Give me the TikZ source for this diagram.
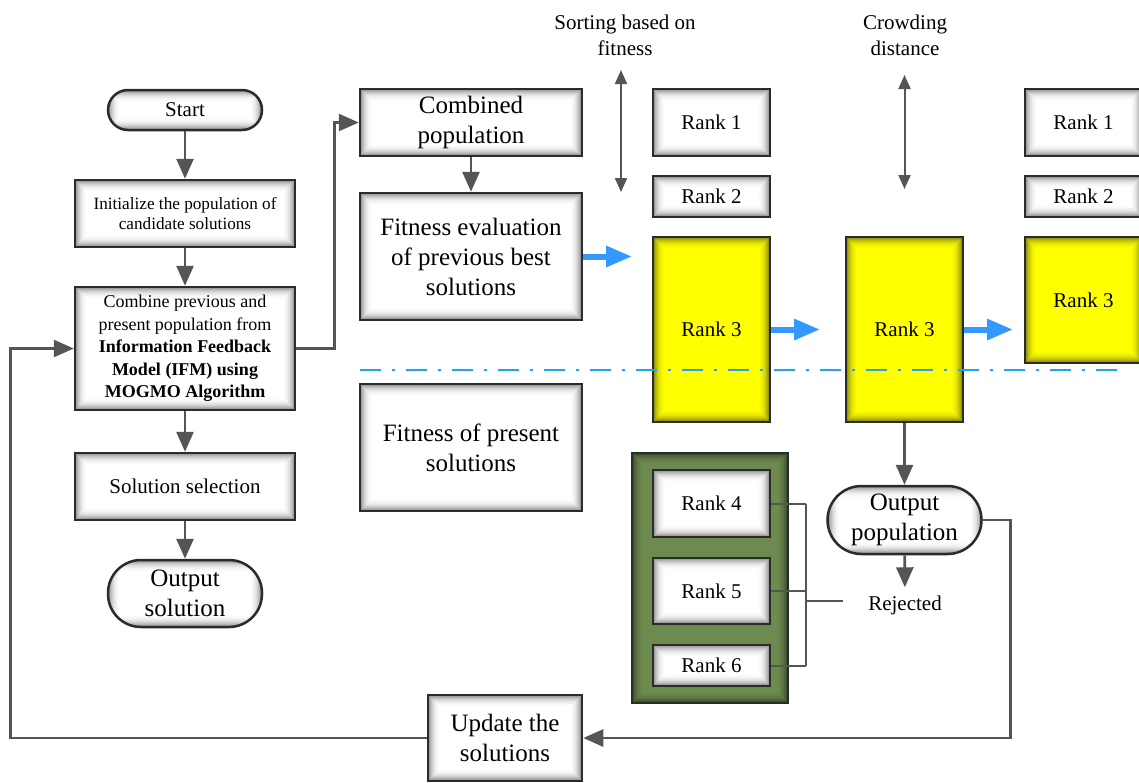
\documentclass[tikz,border=0pt]{standalone}
\usepackage{fontspec}
\setmainfont{Liberation Serif}
\usepackage{xcolor}
\usepackage{tikz}
\usetikzlibrary{calc}
\usetikzlibrary{arrows.meta}

\definecolor{linegray}{HTML}{555555}
\definecolor{boxline}{HTML}{2B2B2B}
\definecolor{edgegray}{HTML}{8A8A8A}
\definecolor{arrowblue}{HTML}{3399FF}
\definecolor{dashblue}{HTML}{1FA5E8}
\definecolor{rankyellow}{HTML}{FFFF00}
\definecolor{yellowedge}{HTML}{7E7E14}
\definecolor{boxgreen}{HTML}{6E8B4F}
\definecolor{greenedge}{HTML}{36452A}

\newcommand{\txtbig}{\fontsize{25}{30}\selectfont}
\newcommand{\txtmid}{\fontsize{21}{26}\selectfont}
\newcommand{\txtcomb}{\fontsize{18}{22.5}\selectfont}
\newcommand{\txtsmall}{\fontsize{17.2}{20.5}\selectfont}

\tikzset{
  glow/.style 2 args={path picture={
    \foreach \g [count=\k from 0] in {100,82,66,52,40,30,22,15,10,6,3,1,0}
      \fill[sharp corners,#2!\g!#1] ([shift={(\k*1pt,-\k*1pt)}]path picture bounding box.north west) rectangle ([shift={(-\k*1pt,\k*1pt)}]path picture bounding box.south east);
  }},
  box/.style={draw=boxline, line width=2.5pt, inner sep=0pt, align=center, glow={white}{edgegray}},
  term/.style={box, rounded corners=#1},
  rank/.style={box, minimum width=117pt, font=\txtmid},
  hirank/.style={rank, glow={rankyellow}{yellowedge}},
  flow/.style={linegray, line width=2.7pt, -{Triangle[length=20pt,width=17pt]}},
  move/.style={arrowblue, line width=6pt, -{Triangle[length=26pt,width=20pt]}},
  spread/.style={linegray, line width=2pt, {Triangle[length=14pt,width=12pt]}-{Triangle[length=14pt,width=12pt]}},
  link/.style={linegray, line width=2pt},
}

\begin{document}
\begin{tikzpicture}[x=1pt,y=-1pt]
\path[use as bounding box, fill=white] (0,0) rectangle (1139,782);

\node[term=20pt, minimum width=154pt, minimum height=40pt, font=\txtmid] (start) at (185,110) {Start};
\node[box, minimum width=220pt, minimum height=67pt, font=\txtsmall] (init) at (185,213.5) {Initialize the population of\\candidate solutions};
\node[box, minimum width=220pt, minimum height=123pt, font=\txtcomb] (comb) at (185,348.5) {Combine previous and\\present population from\\\textbf{Information Feedback}\\\textbf{Model (IFM) using}\\\textbf{MOGMO Algorithm}};
\node[box, minimum width=220pt, minimum height=67pt, font=\txtmid] (select) at (185,486.5) {Solution selection};
\node[term=33pt, minimum width=154pt, minimum height=67pt, font=\txtbig] (outsol) at (185,593.5) {Output\\solution};

\node[box, minimum width=222pt, minimum height=67pt, font=\txtbig] (combpop) at (471,122.5) {Combined\\population};
\node[box, minimum width=222pt, minimum height=127pt, font=\txtbig] (fiteval) at (471,256.5) {Fitness evaluation\\of previous best\\solutions};
\node[box, minimum width=222pt, minimum height=127pt, font=\txtbig] (fitpres) at (471,447.5) {Fitness of present\\solutions};
\node[box, minimum width=154pt, minimum height=86pt, font=\txtbig] (update) at (505,738) {Update the\\solutions};

\node[box, minimum width=156pt, minimum height=250pt, glow={boxgreen}{greenedge}] (pool) at (710,578) {};

\foreach \name/\x/\y/\h/\n in {r1a/711.5/122.5/67/1, r2a/711.5/196.5/41/2, r1c/1083.5/122.5/67/1, r2c/1083.5/196.5/41/2, r4/711.5/503.5/67/4, r5/711.5/591/66/5, r6/711.5/665.5/41/6}
  \node[rank, minimum height=\h pt] (\name) at (\x,\y) {Rank \n};

\foreach \name/\x/\y/\h in {r3a/711.5/329.5/185, r3b/904.5/329.5/185, r3c/1083.5/300/126}
  \node[hirank, minimum height=\h pt] (\name) at (\x,\y) {Rank 3};

\node[term=34pt, minimum width=154pt, minimum height=68pt, font=\txtbig] (outpop) at (904.5,520) {Output\\population};
\node[font=\txtmid, inner sep=8pt] (rejected) at (905,605) {Rejected};

\node[font=\txtmid, align=center] (sortlbl) at (625,35) {Sorting based on\\fitness};
\node[font=\txtmid, align=center] (crowdlbl) at (905,35) {Crowding\\distance};

\draw[flow] (start) -- (init);
\draw[flow] (init) -- (comb);
\draw[flow] (comb) -- (select);
\draw[flow] (select) -- (outsol);
\draw[flow] (combpop) -- (fiteval);
\draw[flow] (comb.east) -- ++(38,0) |- (combpop.west);
\draw[flow] (update.west) -- ++(-416,0) |- (comb.west);
\draw[flow] (r3b) -- (outpop);
\draw[flow] (outpop) -- (rejected);
\draw[flow] (outpop.east) -- ++(28,0) |- (update.east);

\coordinate (hit1) at (632,256.5);
\coordinate (hit2) at (820,329.5);
\coordinate (hit3) at (1013,329.5);
\draw[move] (fiteval.east) -- (hit1);
\draw[move] (r3a.east) -- (hit2);
\draw[move] (r3b.east) -- (hit3);

\coordinate (sorttop) at (621,70);
\coordinate (sortbot) at (621,192);
\coordinate (crowdtop) at (904.5,75);
\coordinate (crowdbot) at (904.5,189);
\draw[spread] (sorttop) -- (sortbot);
\draw[spread] (crowdtop) -- (crowdbot);

\coordinate (spine) at (806,0);
\coordinate (rej) at (843,601);
\foreach \r in {r4,r5,r6}
  \draw[link] (\r.east) -- (\r.east -| spine);
\draw[link] (spine |- r4.east) -- (spine |- r6.east);
\draw[link] (spine |- rej) -- (rej);

\coordinate (cutl) at (360,370);
\coordinate (cutr) at (1118,370);
\draw[dashblue, line width=2.2pt, dash pattern=on 21pt off 11pt on 3pt off 11pt] (cutl) -- (cutr);
\end{tikzpicture}
\end{document}
